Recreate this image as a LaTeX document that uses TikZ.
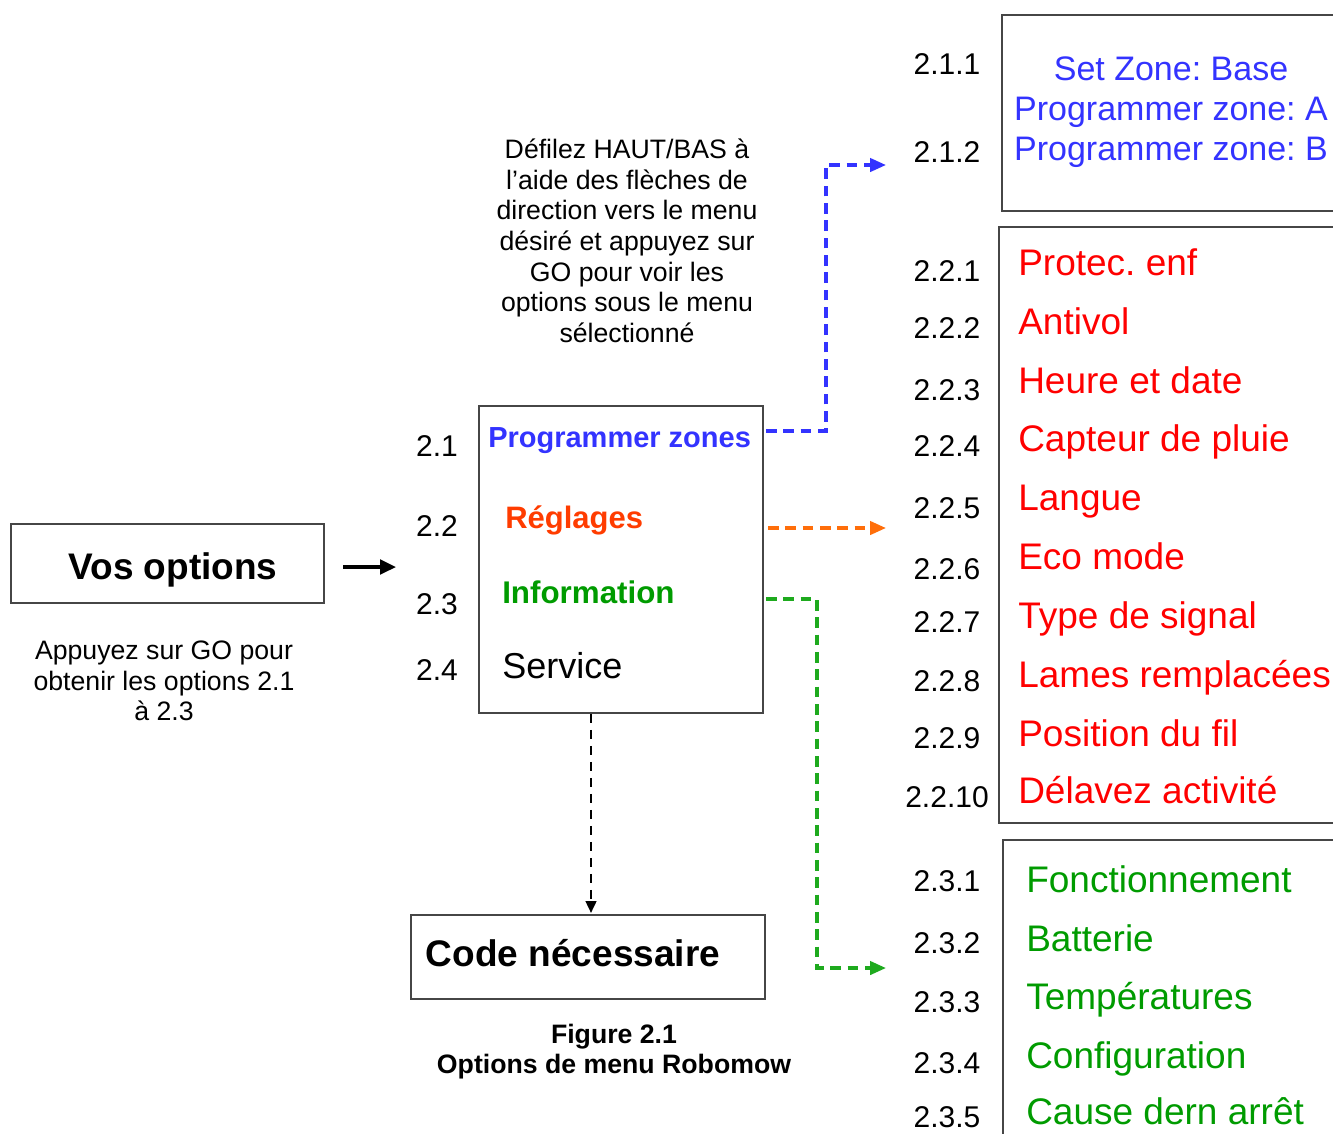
\documentclass[tikz,border=0pt]{standalone}
\usepackage{fontspec}
\setmainfont{Liberation Sans}
\usetikzlibrary{arrows.meta}
\definecolor{pblue}{RGB}{51,51,255}
\definecolor{regl}{RGB}{255,60,0}
\definecolor{oarr}{RGB}{255,110,10}
\definecolor{itred}{RGB}{255,0,0}
\definecolor{itgreen}{RGB}{0,155,0}
\definecolor{garr}{RGB}{30,170,30}
\definecolor{boxgray}{RGB}{70,70,70}
\newcommand{\pxf}[1]{\fontsize{#1}{#1}\selectfont}
\frenchspacing
\begin{document}
\begin{tikzpicture}[x=0.75pt,y=-0.75pt,
  boxst/.style={draw=boxgray, line width=1.3pt, fill=none, inner sep=0pt},
  txt/.style={inner sep=0pt, anchor=base},
  txtw/.style={inner sep=0pt, anchor=base west},
  lab/.style={inner sep=0pt, anchor=base, font=\pxf{22.5pt}},
  redit/.style={txtw, text=itred, font=\pxf{27.75pt}},
  grnit/.style={txtw, text=itgreen, font=\pxf{27.75pt}},
  blueit/.style={txt, text=pblue, font=\pxf{25.5pt}},
  desc/.style={txt, font=\pxf{20pt}},
  dconn/.style={line width=2.5pt, dash pattern=on 8pt off 5pt, -{Triangle[length=12pt,width=10pt]}},
  bconn/.style={line width=1.8pt, dash pattern=on 7pt off 5pt, -{Triangle[length=9pt,width=8pt]}}
]
\useasboundingbox (0,0) rectangle (1333,1133);
\clip (0,0) rectangle (1333,1133);

% boxes
\node[boxst, minimum width=234.75pt, minimum height=59.25pt] (vos) at (167.5,563.5) {};
\node[boxst, minimum width=213pt, minimum height=230.25pt] (menu) at (621,559.5) {};
\node[boxst, minimum width=265.5pt, minimum height=63pt] (code) at (588,957) {};
\node[boxst, minimum width=298.5pt, minimum height=147pt] (b21) at (1201,113) {};
\node[boxst, minimum width=300.75pt, minimum height=447pt] (b22) at (1199.5,525) {};
\node[boxst, minimum width=297.75pt, minimum height=270pt] (b23) at (1201.5,1020) {};

% box texts
\node[txt, font=\bfseries\pxf{27.75pt}] (vost) at (173,579) {Vos options};
\node[txt, font=\bfseries\pxf{27.75pt}] (codet) at (573,966) {Code nécessaire};

% menu contents
\node[lab] (l21) at (437,456) {2.1};
\node[lab] (l22) at (437,536) {2.2};
\node[lab] (l23) at (437,614) {2.3};
\node[lab] (l24) at (437,680) {2.4};
\node[txtw, text=pblue, font=\bfseries\pxf{21.75pt}] (m1) at (488,447) {Programmer zones};
\node[txtw, text=regl, font=\bfseries\pxf{23.25pt}] (m2) at (505,528) {Réglages};
\node[txtw, text=itgreen, font=\bfseries\pxf{23.5pt}] (m3) at (502,603) {Information};
\node[txtw, font=\pxf{27pt}] (m4) at (502,678) {Service};

% description
\node[desc] (d1) at (627,158) {Défilez HAUT/BAS à};
\node[desc] (d2) at (627,189) {l’aide des flèches de};
\node[desc] (d3) at (627,219) {direction vers le menu};
\node[desc] (d4) at (627,250) {désiré et appuyez sur};
\node[desc] (d5) at (627,281) {GO pour voir les};
\node[desc] (d6) at (627,311) {options sous le menu};
\node[desc] (d7) at (627,342) {sélectionné};

\node[desc] (a1) at (164,659) {Appuyez sur GO pour};
\node[desc] (a2) at (164,690) {obtenir les options 2.1};
\node[desc] (a3) at (164,720) {à 2.3};

\node[desc, font=\bfseries\pxf{20pt}] (f1) at (614,1043) {Figure 2.1};
\node[desc, font=\bfseries\pxf{20pt}] (f2) at (614,1073) {Options de menu Robomow};

% top box
\node[lab] (t1) at (947,74) {2.1.1};
\node[lab] (t2) at (947,162) {2.1.2};
\node[blueit] (z1) at (1171,80) {Set Zone: Base};
\node[blueit] (z2) at (1171,120) {Programmer zone: A};
\node[blueit] (z3) at (1171,160) {Programmer zone: B};

% red box
\node[lab] (r1) at (947,281) {2.2.1};
\node[lab] (r2) at (947,338) {2.2.2};
\node[lab] (r3) at (947,400) {2.2.3};
\node[lab] (r4) at (947,456) {2.2.4};
\node[lab] (r5) at (947,518) {2.2.5};
\node[lab] (r6) at (947,579) {2.2.6};
\node[lab] (r7) at (947,632) {2.2.7};
\node[lab] (r8) at (947,691) {2.2.8};
\node[lab] (r9) at (947,748) {2.2.9};
\node[lab] (r10) at (947,807) {2.2.10};
\node[redit] (s1) at (1018,275) {Protec. enf};
\node[redit] (s2) at (1018,334) {Antivol};
\node[redit] (s3) at (1018,393) {Heure et date};
\node[redit] (s4) at (1018,451) {Capteur de pluie};
\node[redit] (s5) at (1018,510) {Langue};
\node[redit] (s6) at (1018,569) {Eco mode};
\node[redit] (s7) at (1018,628) {Type de signal};
\node[redit] (s8) at (1018,687) {Lames remplacées};
\node[redit] (s9) at (1018,746) {Position du fil};
\node[redit] (s10) at (1018,803) {Délavez activité};

% green box
\node[lab] (g1) at (947,891) {2.3.1};
\node[lab] (g2) at (947,953) {2.3.2};
\node[lab] (g3) at (947,1012) {2.3.3};
\node[lab] (g4) at (947,1073) {2.3.4};
\node[lab] (g5) at (947,1127) {2.3.5};
\node[grnit] (h1) at (1026,892) {Fonctionnement};
\node[grnit] (h2) at (1026,951) {Batterie};
\node[grnit] (h3) at (1026,1009) {Températures};
\node[grnit] (h4) at (1026,1068) {Configuration};
\node[grnit] (h5) at (1026,1124) {Cause dern arrêt};

% connectors
\coordinate (arrL) at (343,567);
\coordinate (arrR) at (396,567);
\draw[line width=2.4pt, -{Triangle[length=12pt,width=11pt]}] (arrL) -- (arrR);

\coordinate (bS) at (766,431);
\coordinate (bE) at (886,165);
\draw[dconn, pblue] (bS) -- (826,431) -- (826,165) -- (bE);

\coordinate (oS) at (768,528);
\coordinate (oE) at (886,528);
\draw[dconn, oarr] (oS) -- (oE);

\coordinate (gS) at (766,599);
\coordinate (gE) at (886,968);
\draw[dconn, garr] (gS) -- (817,599) -- (817,968) -- (gE);

\draw[bconn, black] (menu.south -| 591,0) -- (591,913);
\end{tikzpicture}
\end{document}
